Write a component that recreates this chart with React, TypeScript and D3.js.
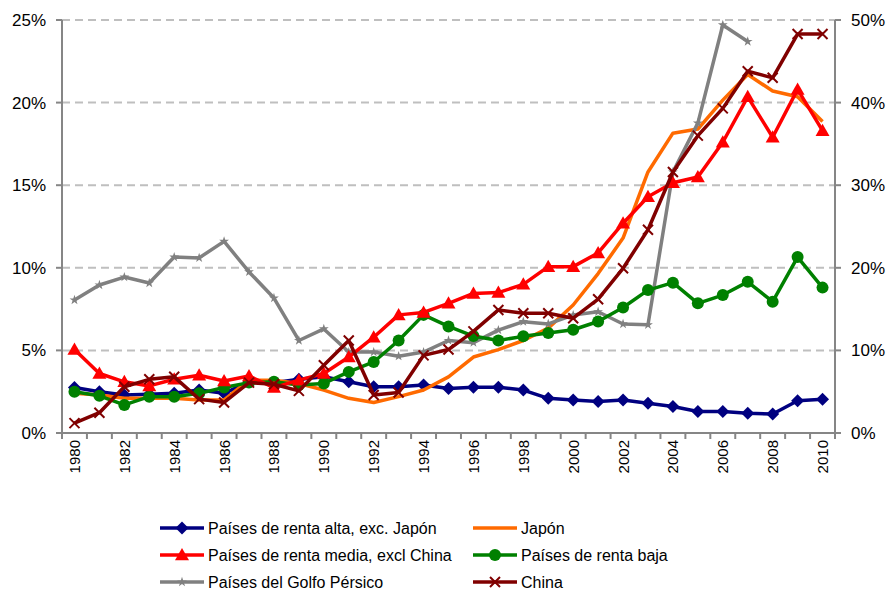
import React from "react";
import * as d3 from "d3";

const years = d3.range(1980, 2011).map(String);
const yTicksLeft = [0, 5, 10, 15, 20, 25];
const yTicksRight = [0, 10, 20, 30, 40, 50];

const altaExcJapon = [2.75, 2.5, 2.3, 2.35, 2.4, 2.6, 2.4, 3.1, 3.05, 3.25, 3.4, 3.1, 2.8, 2.8, 2.9, 2.7, 2.77, 2.77, 2.6, 2.1, 2.0, 1.9, 2.0, 1.8, 1.6, 1.3, 1.3, 1.2, 1.15, 1.95, 2.05];
const japon = [2.4, 2.3, 2.1, 2.1, 2.1, 2.0, 2.0, 3.2, 3.2, 3.0, 2.6, 2.1, 1.85, 2.2, 2.6, 3.4, 4.6, 5.05, 5.6, 6.35, 7.75, 9.65, 11.8, 15.8, 18.15, 18.4, 20.15, 21.7, 20.7, 20.35, 18.85];
const mediaExcChina = [5.05, 3.6, 3.1, 2.85, 3.25, 3.5, 3.15, 3.45, 2.75, 3.2, 3.6, 4.6, 5.8, 7.15, 7.3, 7.85, 8.45, 8.5, 9.0, 10.07, 10.07, 10.9, 12.7, 14.3, 15.15, 15.5, 17.6, 20.35, 17.9, 20.8, 18.3];
const rentaBaja = [2.5, 2.25, 1.7, 2.2, 2.2, 2.4, 2.75, 3.05, 3.1, 2.9, 3.0, 3.7, 4.3, 5.6, 7.15, 6.45, 5.87, 5.6, 5.85, 6.05, 6.25, 6.75, 7.6, 8.65, 9.1, 7.85, 8.35, 9.15, 7.95, 10.65, 8.8];
const golfo: (number | null)[] = [8.05, 8.96, 9.44, 9.08, 10.65, 10.6, 11.6, 9.75, 8.17, 5.6, 6.3, 4.9, 4.9, 4.65, 4.9, 5.6, 5.47, 6.23, 6.74, 6.6, 7.14, 7.34, 6.6, 6.55, 15.8, 18.76, 24.7, 23.7, null, null, null];
const china = [0.6, 1.23, 2.8, 3.25, 3.4, 2.05, 1.85, 3.05, 2.95, 2.55, 4.1, 5.6, 2.3, 2.45, 4.7, 5.05, 6.15, 7.45, 7.25, 7.25, 6.95, 8.1, 9.97, 12.3, 15.8, 18.0, 19.65, 21.9, 21.5, 24.15, 24.15];

type Marker = "diamond" | "none" | "triangle" | "circle" | "star" | "x";
const seriesNames = [
  "Países de renta alta, exc. Japón",
  "Japón",
  "Países de renta media, excl China",
  "Países de renta baja",
  "Países del Golfo Pérsico",
  "China",
];
const seriesData = [altaExcJapon, japon, mediaExcChina, rentaBaja, golfo, china];
const seriesColors = ["#000080", "#FF6A00", "#FF0000", "#008000", "#808080", "#800000"];
const seriesMarkers: Marker[] = ["diamond", "none", "triangle", "circle", "star", "x"];
const drawOrder = [0, 1, 4, 3, 2, 5];

const W = 888, H = 591;
const M = { left: 62, right: 835, top: 20, bottom: 433 };

function MarkerShape({ type, x, y, color }: { type: Marker; x: number; y: number; color: string }) {
  if (type === "diamond") {
    const s = 6.5;
    return <path d={`M${x},${y - s}L${x + s},${y}L${x},${y + s}L${x - s},${y}Z`} fill={color} />;
  }
  if (type === "triangle") {
    const s = 7;
    return <path d={`M${x},${y - s}L${x + s},${y + s * 0.75}L${x - s},${y + s * 0.75}Z`} fill={color} />;
  }
  if (type === "circle") return <circle cx={x} cy={y} r={6} fill={color} />;
  if (type === "star") {
    return <path d={d3.symbol(d3.symbolStar, 30)() || ""} transform={`translate(${x},${y})`} fill={color} />;
  }
  if (type === "x") {
    const s = 5;
    return (
      <path d={`M${x - s},${y - s}L${x + s},${y + s}M${x - s},${y + s}L${x + s},${y - s}`} stroke={color} strokeWidth={2} fill="none" />
    );
  }
  return null;
}

export default function App() {
  const x = d3.scaleBand().domain(years).range([M.left, M.right]).paddingInner(0).paddingOuter(0);
  const y = d3.scaleLinear().domain([0, 25]).range([M.bottom, M.top]);
  const yR = d3.scaleLinear().domain([0, 50]).range([M.bottom, M.top]);
  const cx = (i: number) => (x(years[i]) as number) + x.bandwidth() / 2;
  const line = d3
    .line<number | null>()
    .defined((d) => d !== null)
    .x((_, i) => cx(i))
    .y((d) => y(d as number));

  const font = "'Liberation Sans', Arial, sans-serif";
  const axisColor = "#868686";
  const boundaries = d3.range(years.length + 1).map((i) => M.left + i * x.bandwidth());

  const legendItems = [
    { s: 0, lx: 160, ly: 528 },
    { s: 1, lx: 473, ly: 528 },
    { s: 2, lx: 160, ly: 555 },
    { s: 3, lx: 473, ly: 555 },
    { s: 4, lx: 160, ly: 582 },
    { s: 5, lx: 473, ly: 582 },
  ];

  return (
    <div style={{ position: "absolute", left: 0, top: 0 }}>
      <svg width={W} height={H} style={{ display: "block", background: "#fff" }}>
        {/* gridlines */}
        {yTicksLeft.slice(1).map((t) => (
          <line key={t} x1={M.left} x2={M.right} y1={y(t)} y2={y(t)} stroke="#BFBFBF" strokeWidth={2} strokeDasharray="8,5" />
        ))}
        {/* left axis */}
        <line x1={M.left} x2={M.left} y1={M.top} y2={M.bottom} stroke={axisColor} strokeWidth={2} />
        {yTicksLeft.map((t) => (
          <g key={t}>
            <line x1={M.left - 6} x2={M.left} y1={y(t)} y2={y(t)} stroke={axisColor} strokeWidth={2} />
            <text x={M.left - 16} y={y(t)} dy="0.35em" textAnchor="end" fontSize={17} fontFamily={font} fill="#000">
              {t}%
            </text>
          </g>
        ))}
        {/* right axis */}
        <line x1={M.right} x2={M.right} y1={M.top} y2={M.bottom} stroke={axisColor} strokeWidth={2} />
        {yTicksRight.map((t) => (
          <g key={t}>
            <line x1={M.right} x2={M.right + 6} y1={yR(t)} y2={yR(t)} stroke={axisColor} strokeWidth={2} />
            <text x={M.right + 16} y={yR(t)} dy="0.35em" textAnchor="start" fontSize={17} fontFamily={font} fill="#000">
              {t}%
            </text>
          </g>
        ))}
        {/* x axis */}
        <line x1={M.left} x2={M.right} y1={M.bottom} y2={M.bottom} stroke={axisColor} strokeWidth={2} />
        {boundaries.map((bx, i) => (
          <line key={i} x1={bx} x2={bx} y1={M.bottom} y2={M.bottom + 6} stroke={axisColor} strokeWidth={2} />
        ))}
        {years.map((yr, i) =>
          i % 2 === 0 ? (
            <text
              key={yr}
              transform={`translate(${cx(i) + 5.5},${M.bottom + 7}) rotate(-90)`}
              textAnchor="end"
              fontSize={15}
              fontFamily={font}
              fill="#000"
            >
              {yr}
            </text>
          ) : null
        )}
        {/* series */}
        {drawOrder.map((s) => (
          <g key={s}>
            <path d={line(seriesData[s]) || ""} fill="none" stroke={seriesColors[s]} strokeWidth={3.5} strokeLinejoin="round" />
            {seriesData[s].map((v, i) =>
              v === null ? null : <MarkerShape key={i} type={seriesMarkers[s]} x={cx(i)} y={y(v)} color={seriesColors[s]} />
            )}
          </g>
        ))}
        {/* legend */}
        {legendItems.map(({ s, lx, ly }) => (
          <g key={s}>
            <line x1={lx} x2={lx + 44} y1={ly} y2={ly} stroke={seriesColors[s]} strokeWidth={3.5} />
            <MarkerShape type={seriesMarkers[s]} x={lx + 22} y={ly} color={seriesColors[s]} />
            <text x={lx + 48} y={ly} dy="0.35em" fontSize={16} fontFamily={font} fill="#000">
              {seriesNames[s]}
            </text>
          </g>
        ))}
      </svg>
    </div>
  );
}
